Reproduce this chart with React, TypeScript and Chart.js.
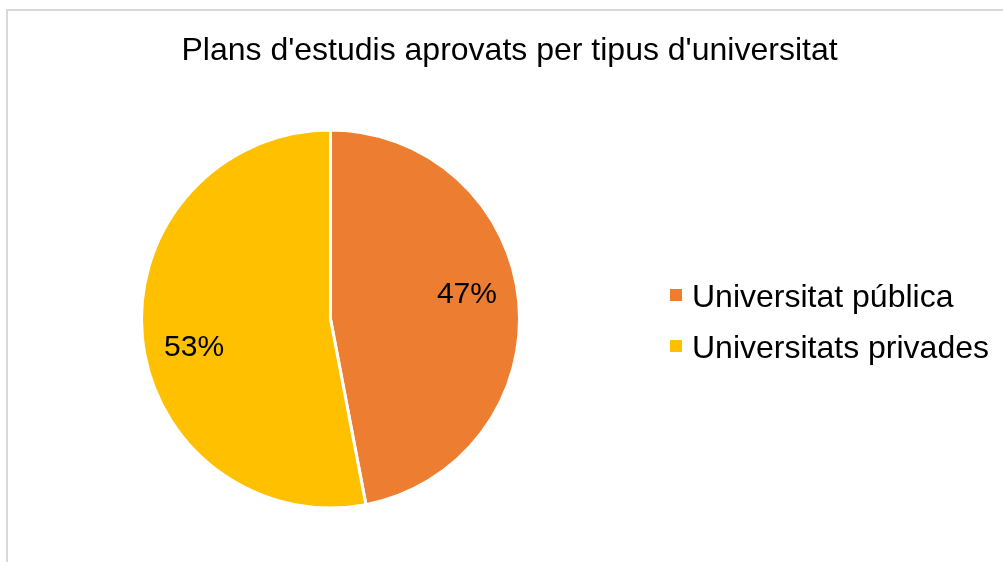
import React, { useEffect, useRef } from "react";
import { Chart, registerables } from "chart.js";

Chart.register(...registerables);

const TITLE = "Plans d'estudis aprovats per tipus d'universitat";
const CATEGORIES = ["Universitat pública", "Universitats privades"];
const VALUES = [47, 53];
const PERCENT_LABELS = ["47%", "53%"];
const COLORS = ["#ED7D31", "#FFC000"];

const FONT = "'Liberation Sans', Arial, sans-serif";

const decorPlugin = {
  id: "decor",
  beforeDraw(chart: any) {
    const ctx = chart.ctx;
    ctx.save();
    ctx.fillStyle = "#ffffff";
    ctx.fillRect(0, 0, chart.width, chart.height);
    ctx.strokeStyle = "#d9d9d9";
    ctx.lineWidth = 2;
    ctx.strokeRect(7, 10, chart.width + 10, chart.height + 10);
    ctx.restore();
  },
  afterDraw(chart: any) {
    const ctx = chart.ctx;
    const area = chart.chartArea;
    ctx.save();
    // title
    ctx.fillStyle = "#000000";
    ctx.font = `32px ${FONT}`;
    ctx.textAlign = "center";
    ctx.textBaseline = "alphabetic";
    ctx.fillText(TITLE, 509.5, 60);

    // data labels
    const meta = chart.getDatasetMeta(0);
    ctx.font = `30px ${FONT}`;
    ctx.textAlign = "center";
    ctx.textBaseline = "middle";
    meta.data.forEach((arc: any, i: number) => {
      const p = arc.getProps(["x", "y", "startAngle", "endAngle", "outerRadius"], true);
      const mid = (p.startAngle + p.endAngle) / 2 - (5.5 * Math.PI) / 180;
      const r = p.outerRadius * 0.735;
      ctx.fillText(PERCENT_LABELS[i], p.x + Math.cos(mid) * r, p.y + Math.sin(mid) * r + 2);
    });

    // legend
    const lx = area.right + 149;
    const baseY = 307;
    const step = 51;
    ctx.textAlign = "left";
    ctx.textBaseline = "alphabetic";
    ctx.font = `32px ${FONT}`;
    CATEGORIES.forEach((c, i) => {
      const y = baseY + i * step;
      ctx.fillStyle = COLORS[i];
      ctx.fillRect(lx, y - 18, 12, 12);
      ctx.fillStyle = "#000000";
      ctx.fillText(c, lx + 22, y);
    });
    ctx.restore();
  },
};

export default function App() {
  const ref = useRef<HTMLCanvasElement>(null);
  useEffect(() => {
    if (!ref.current) return;
    const chart = new Chart(ref.current, {
      type: "pie",
      data: {
        labels: CATEGORIES,
        datasets: [
          {
            data: VALUES,
            backgroundColor: COLORS,
            borderColor: "#ffffff",
            borderWidth: 3,
          },
        ],
      },
      options: {
        animation: false,
        responsive: true,
        maintainAspectRatio: false,
        layout: { padding: { left: 140, right: 482, top: 128.5, bottom: 52.5 } },
        plugins: {
          legend: { display: false },
          title: { display: false },
          tooltip: { enabled: false },
        },
      },
      plugins: [decorPlugin],
    });
    return () => chart.destroy();
  }, []);
  return (
    <div style={{ position: "fixed", left: 0, top: 0, width: 1003, height: 562, background: "#fff" }}>
      <canvas ref={ref} />
    </div>
  );
}
